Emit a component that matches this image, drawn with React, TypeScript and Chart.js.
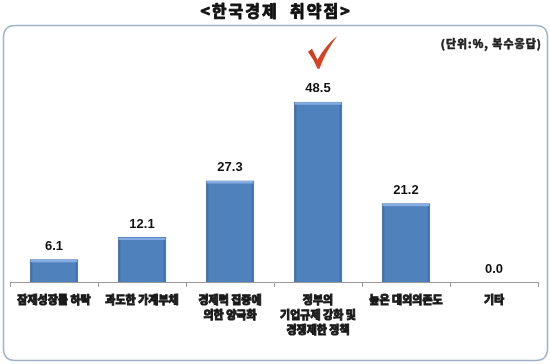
import React, { useEffect, useRef } from "react";
import { Chart, registerables } from "chart.js";

Chart.register(...registerables);

const titleText = "<한국경제  취약점>";
const unitText = "(단위:%, 복수응답)";
const categories: string[][] = [
  ["잠재성장률 하락"],
  ["과도한 가계부채"],
  ["경제력 집중에", "의한 양극화"],
  ["정부의", "기업규제 강화 및", "경쟁제한 정책"],
  ["높은 대외의존도"],
  ["기타"],
];
const values: number[] = [6.1, 12.1, 27.3, 48.5, 21.2, 0.0];
const highlightIndex = 3;

const KFONT = '"Noto Sans CJK KR", "Noto Sans", sans-serif';

function boldText(ctx: any, text: string, x: number, y: number, sw: number) {
  ctx.lineWidth = sw;
  ctx.lineJoin = "round";
  ctx.strokeStyle = ctx.fillStyle;
  ctx.strokeText(text, x, y);
  ctx.fillText(text, x, y);
}

const decorPlugin = {
  id: "decor",
  beforeDraw(chart: any) {
    const ctx = chart.ctx;
    ctx.save();
    ctx.fillStyle = "#ffffff";
    ctx.fillRect(0, 0, chart.width, chart.height);
    const x = 3.5, y = 25.5, w = 544, h = 335, r = 12;
    ctx.beginPath();
    ctx.moveTo(x + r, y);
    ctx.lineTo(x + w - r, y);
    ctx.quadraticCurveTo(x + w, y, x + w, y + r);
    ctx.lineTo(x + w, y + h - r);
    ctx.quadraticCurveTo(x + w, y + h, x + w - r, y + h);
    ctx.lineTo(x + r, y + h);
    ctx.quadraticCurveTo(x, y + h, x, y + h - r);
    ctx.lineTo(x, y + r);
    ctx.quadraticCurveTo(x, y, x + r, y);
    ctx.closePath();
    ctx.strokeStyle = "#9fb2c8";
    ctx.lineWidth = 1.5;
    ctx.stroke();
    ctx.fillStyle = "#111111";
    ctx.font = "bold 16px " + KFONT;
    ctx.textAlign = "center";
    ctx.textBaseline = "middle";
    (ctx as any).letterSpacing = "2px";
    boldText(ctx, titleText, 276, 11, 0.9);
    ctx.font = "bold 11px " + KFONT;
    (ctx as any).letterSpacing = "1px";
    ctx.textAlign = "right";
    ctx.fillStyle = "#222222";
    boldText(ctx, unitText, 542, 44, 0.6);
    (ctx as any).letterSpacing = "0px";
    ctx.restore();
  },
  afterDatasetsDraw(chart: any) {
    const ctx = chart.ctx;
    const meta = chart.getDatasetMeta(0);
    ctx.save();
    meta.data.forEach((bar: any, i: number) => {
      const v = values[i];
      const left = bar.x - bar.width / 2;
      const hgt = bar.base - bar.y;
      if (hgt > 2) {
        ctx.fillStyle = "rgba(140,180,230,0.85)";
        ctx.fillRect(left + 1, bar.y + 0.5, bar.width - 2, 2.5);
        ctx.fillStyle = "rgba(40,80,140,0.35)";
        ctx.fillRect(left + 0.5, bar.y + 3, 2, hgt - 3);
        ctx.fillRect(left + bar.width - 2.5, bar.y + 3, 2, hgt - 3);
      }
      ctx.fillStyle = "#111111";
      ctx.font = 'bold 13px "Liberation Sans", Arial, sans-serif';
      ctx.textAlign = "center";
      ctx.textBaseline = "middle";
      ctx.fillText(v.toFixed(1), bar.x, bar.y - 13);
      if (i === highlightIndex) {
        const cx = bar.x;
        const top = bar.y;
        const g = ctx.createLinearGradient(cx - 10, top - 65, cx + 19, top - 33);
        g.addColorStop(0, "#c9301a");
        g.addColorStop(1, "#e0502a");
        ctx.fillStyle = g;
        ctx.beginPath();
        ctx.moveTo(cx - 10, top - 50);
        ctx.lineTo(cx - 6, top - 53);
        ctx.quadraticCurveTo(cx - 3, top - 47, cx - 0.5, top - 42);
        ctx.quadraticCurveTo(cx + 8, top - 57, cx + 19.5, top - 66);
        ctx.quadraticCurveTo(cx + 8, top - 51, cx + 1.5, top - 33);
        ctx.lineTo(cx - 0.5, top - 33);
        ctx.quadraticCurveTo(cx - 4, top - 42, cx - 10, top - 50);
        ctx.closePath();
        ctx.fill();
      }
    });
    ctx.restore();
  },
};

export default function App() {
  const ref = useRef<HTMLCanvasElement | null>(null);
  useEffect(() => {
    if (!ref.current) return;
    const chart = new Chart(ref.current, {
      type: "bar",
      data: {
        labels: categories,
        datasets: [
          {
            data: values,
            backgroundColor: "#4f81bd",
            borderColor: "#3d6aa3",
            borderWidth: 1,
            categoryPercentage: 1,
            barPercentage: 0.55,
          },
        ],
      },
      options: {
        animation: false,
        responsive: false,
        devicePixelRatio: 1,
        layout: { padding: { left: 10, right: 12, top: 59, bottom: 0 } },
        plugins: {
          legend: { display: false },
          tooltip: { enabled: false },
          title: { display: false },
        },
        scales: {
          y: { display: false, min: 0, max: 60 },
          x: {
            afterFit: (scale: any) => {
              scale.height = 82;
            },
            grid: {
              offset: true,
              drawOnChartArea: false,
              drawTicks: true,
              tickLength: 5,
              color: "#999999",
            },
            border: { display: true, color: "#999999", width: 1 },
            ticks: {
              padding: 5,
              maxRotation: 0,
              autoSkip: false,
              color: "#1a1a1a",
              textStrokeColor: "#1a1a1a",
              textStrokeWidth: 1,
              font: { family: KFONT, size: 11, weight: "bold", lineHeight: 1.36 },
            },
          },
        },
      },
      plugins: [decorPlugin],
    });
    return () => chart.destroy();
  }, []);
  return (
    <div style={{ position: "absolute", left: 0, top: 0, width: 550, height: 364, background: "#fff" }}>
      <canvas ref={ref} width={550} height={364} style={{ display: "block" }} />
    </div>
  );
}
